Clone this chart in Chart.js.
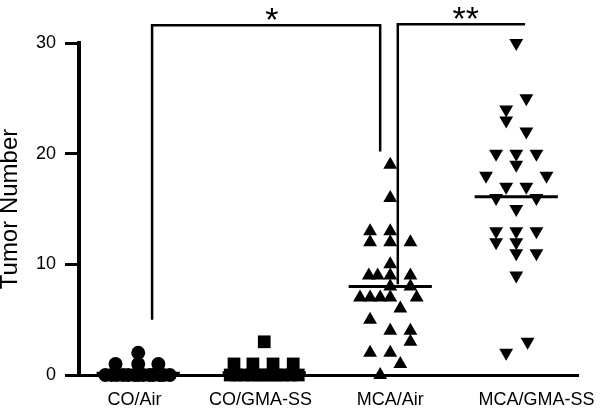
<!DOCTYPE html>
<html>
<head>
<meta charset="utf-8">
<script src="https://cdn.jsdelivr.net/npm/chart.js@4.4.0/dist/chart.umd.min.js"></script>
<style>
html, body { margin: 0; padding: 0; background: #fff; }
</style>
</head>
<body>
<canvas id="myChart" width="600" height="412"></canvas>
<script>
var categories = ['CO/Air', 'CO/GMA-SS', 'MCA/Air', 'MCA/GMA-SS'];
var yTicks = [0, 10, 20, 30];

// tumor counts per animal, with the horizontal scatter (in category widths)
var coAirVals = [0, 0, 0, 0, 0, 0, 0, 0, 0, 0, 0, 0, 0, 1, 1, 1, 2];
var coAirJit = [-0.26, -0.21, -0.17, -0.12, -0.08, -0.03, 0, 0.04, 0.09, 0.12, 0.17, 0.2, 0.25, -0.18, 0, 0.16, 0];

var coGmaVals = [0, 0, 0, 0, 0, 0, 0, 0, 0, 0, 0, 1, 1, 1, 1, 3];
var coGmaJit = [-0.27, -0.22, -0.16, -0.1, -0.05, 0, 0.05, 0.1, 0.15, 0.21, 0.27, -0.24, -0.09, 0.07, 0.23, 0];

var mcaAirVals = [19, 16, 13, 13, 12, 12, 12, 10, 9, 9, 9, 9, 8, 8, 7, 7, 7, 7, 7, 6, 5, 4, 4, 3, 2, 2, 1, 0];
var mcaAirJit = [0, 0, -0.16, 0, -0.16, 0, 0.16, 0, -0.17, -0.1, 0, 0.16, 0, 0.16, -0.24, -0.16, -0.08, 0, 0.21, 0.08, -0.16, 0, 0.16, 0.16, -0.16, 0, 0.08, -0.08];

var mcaGmaVals = [30, 25, 24, 23, 22, 20, 20, 20, 19, 18, 18, 17, 17, 16, 16, 15, 13, 13, 13, 12, 12, 11, 11, 9, 3, 2];
var mcaGmaJit = [0, 0.08, -0.08, -0.08, 0.08, -0.16, 0, 0.16, 0, -0.24, 0.24, -0.08, 0.08, -0.16, 0.16, 0, -0.16, 0, 0.16, -0.16, 0, 0, 0.16, 0, 0.09, -0.08];

var means = [0.15, 0.2, 8.0, 16.1];

var fontFamily = "'Liberation Sans', Arial, sans-serif";
// small shift of each category label from its column centre
var labelShift = [-0.03, -0.03, 0, 0.16];

// significance brackets: ends, leg bottoms, star text
var brackets = [
    {from: 0.11, to: 1.92, top: 31.6, legLeft: 5, legRight: 20.2, star: '*', starX: 1.06},
    {from: 2.06, to: 3.07, top: 31.7, legLeft: 8.2, legRight: null, star: '**', starX: 2.6}
];

function makePoints(idx, vals, jit) {
    return vals.map(function (v, i) { return {x: idx + jit[i], y: v}; });
}
function meanLine(idx, m) {
    return [{x: idx - 0.33, y: m}, {x: idx + 0.33, y: m}];
}

var bracketPlugin = {
    id: 'brackets',
    afterDatasetsDraw: function (chart) {
        var c = chart.ctx;
        var xs = chart.scales.x, ys = chart.scales.y;
        c.save();
        c.strokeStyle = '#000';
        c.fillStyle = '#000';
        c.lineWidth = 2.5;
        brackets.forEach(function (b) {
            var x1 = xs.getPixelForValue(b.from);
            var x2 = xs.getPixelForValue(b.to);
            var yt = ys.getPixelForValue(b.top);
            c.beginPath();
            c.moveTo(x1, ys.getPixelForValue(b.legLeft));
            c.lineTo(x1, yt);
            c.lineTo(x2, yt);
            if (b.legRight !== null) {
                c.lineTo(x2, ys.getPixelForValue(b.legRight));
            }
            c.stroke();
            c.font = '34px ' + fontFamily;
            c.textAlign = 'center';
            c.textBaseline = 'alphabetic';
            c.fillText(b.star, xs.getPixelForValue(b.starX), yt + 6);
        });
        c.restore();
    }
};

var lineStyle = {showLine: true, pointRadius: 0, borderColor: '#000', borderWidth: 3, clip: false};
var dotStyle = {backgroundColor: '#000', borderColor: '#000', borderWidth: 0, clip: false};

var ctx = document.getElementById('myChart').getContext('2d');
var myChart = new Chart(ctx, {
    type: 'scatter',
    data: {
        datasets: [
            Object.assign({data: meanLine(0, means[0])}, lineStyle),
            Object.assign({data: meanLine(1, means[1])}, lineStyle),
            Object.assign({data: meanLine(2, means[2])}, lineStyle),
            Object.assign({data: meanLine(3, means[3])}, lineStyle),
            Object.assign({label: categories[0], data: makePoints(0, coAirVals, coAirJit), pointStyle: 'circle', pointRadius: 7}, dotStyle),
            Object.assign({label: categories[1], data: makePoints(1, coGmaVals, coGmaJit), pointStyle: 'rect', pointRadius: 9}, dotStyle),
            Object.assign({label: categories[2], data: makePoints(2, mcaAirVals, mcaAirJit), pointStyle: 'triangle', pointRadius: 8}, dotStyle),
            Object.assign({label: categories[3], data: makePoints(3, mcaGmaVals, mcaGmaJit), pointStyle: 'triangle', pointRotation: 180, pointRadius: 8}, dotStyle)
        ]
    },
    options: {
        responsive: false,
        animation: false,
        layout: {padding: {top: 43, right: 22, left: 0, bottom: 0}},
        plugins: {legend: {display: false}, tooltip: {enabled: false}},
        scales: {
            x: {
                type: 'linear',
                min: -0.47,
                max: 3.49,
                afterBuildTicks: function (s) { s.ticks = labelShift.map(function (v, i) { return {value: i + v}; }); },
                afterFit: function (s) { s.height = 37; s.paddingLeft = 0; s.paddingRight = 0; },
                grid: {display: false},
                border: {display: true, color: '#000', width: 3},
                ticks: {
                    autoSkip: false, maxRotation: 0, padding: 6, color: '#000',
                    font: {size: 18, family: fontFamily},
                    callback: function (v, i) { return categories[i]; }
                }
            },
            y: {
                min: 0,
                max: 30,
                afterBuildTicks: function (s) { s.ticks = yTicks.map(function (v) { return {value: v}; }); },
                afterFit: function (s) { s.width = 79; s.paddingTop = 0; s.paddingBottom = 0; },
                grid: {drawOnChartArea: false, drawTicks: true, tickLength: 14, lineWidth: 3, color: '#000'},
                border: {color: '#000', width: 4},
                ticks: {padding: 9, color: '#000', font: {size: 18, family: fontFamily}},
                title: {display: true, text: 'Tumor Number', color: '#000', padding: 0, font: {size: 24, family: fontFamily, lineHeight: 0.9}}
            }
        }
    },
    plugins: [bracketPlugin]
});
</script>
</body>
</html>
